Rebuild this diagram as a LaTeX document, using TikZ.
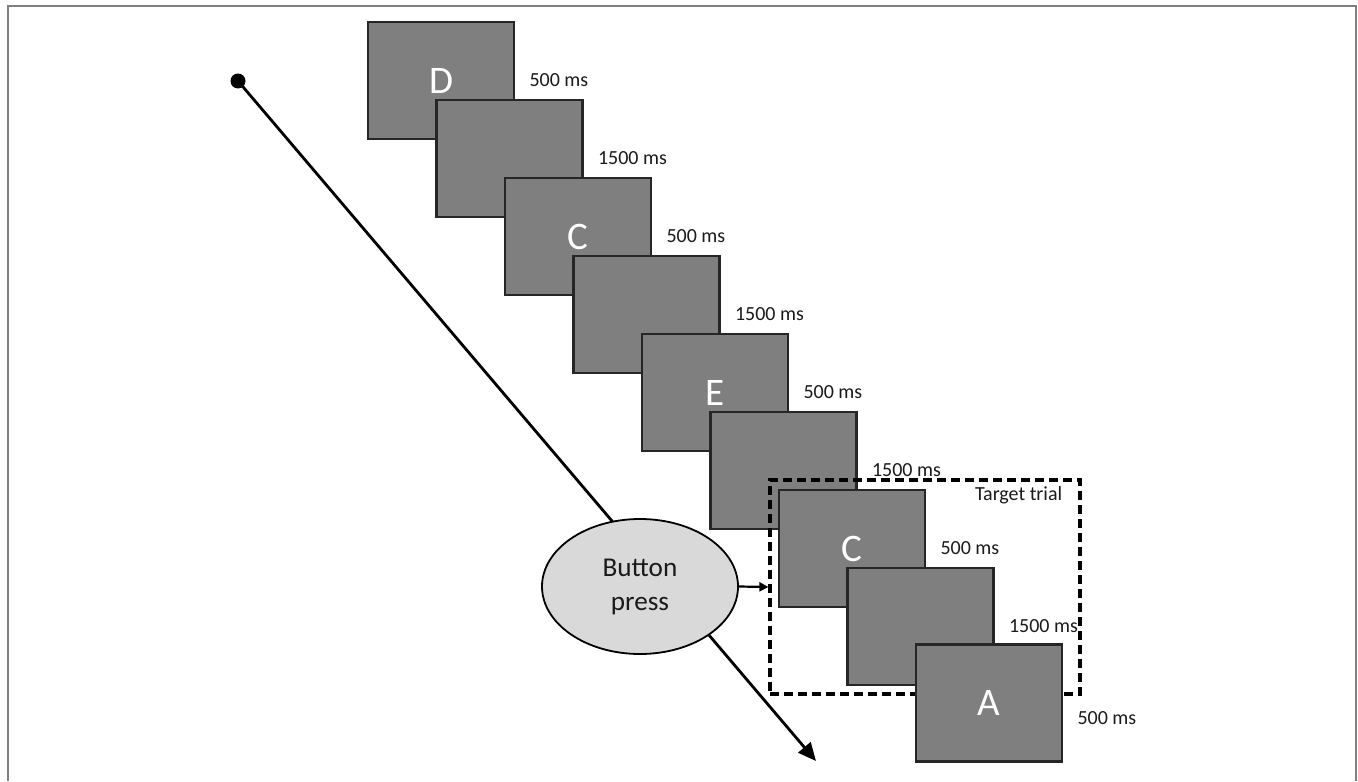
\documentclass[tikz,border=0pt]{standalone}
\usepackage{fontspec}
\setmainfont{Carlito}
\usetikzlibrary{arrows.meta,shapes.geometric}
\definecolor{boxgray}{HTML}{7F7F7F}
\definecolor{boxedge}{HTML}{262626}
\definecolor{ellfill}{HTML}{D9D9D9}
\definecolor{framegray}{HTML}{808080}
\definecolor{txt}{HTML}{1A1A1A}
\tikzset{
  screen/.style={draw=boxedge, line width=1.1pt, fill=boxgray, minimum width=73pt, minimum height=58.5pt, inner sep=0pt, text=white, font=\fontsize{19.5}{22}\selectfont},
  dur/.style={anchor=west, inner sep=0pt, text=txt, font=\fontsize{10}{12}\selectfont},
  press/.style={ellipse, draw=black, line width=0.9pt, fill=ellfill, minimum width=98pt, minimum height=67.5pt, inner sep=0pt, align=center, text=txt, font=\fontsize{13.6}{17}\selectfont},
  trialbox/.style={draw=black, line width=1.6pt, dash pattern=on 4.5pt off 2.5pt, minimum width=155pt, minimum height=107pt, inner sep=0pt},
  timeline/.style={line width=1.4pt, -{Triangle[length=9pt,width=8pt]}},
  pressarrow/.style={line width=1.1pt, -{Triangle[length=4.5pt,width=4.5pt]}},
}
\begin{document}
\begin{tikzpicture}[x=0.5pt,y=-0.5pt]
\useasboundingbox (0,0) rectangle (1358,781);
\fill[white] (0,0) rectangle (1358,781);
% outer frame
\draw[framegray, line width=1pt] (8,781) -- (8,6) -- (1356,6) -- (1356,781);

% timeline
\node[circle, fill=black, minimum size=7.5pt, inner sep=0pt] (dot) at (238,81) {};
\coordinate (tend) at (816,761);
\draw[timeline] (dot.center) -- (tend);

% screens
\node[screen] (b1) at (441,80.5) {D};
\node[screen] (b2) at (509.5,158.5) {};
\node[screen] (b3) at (578,236.5) {C};
\node[screen] (b4) at (646.5,314.5) {};
\node[screen] (b5) at (715,392.5) {E};
\node[screen] (b6) at (783.5,470.5) {};
\node[trialbox] (target) at (925,587) {};
\node[screen] (b7) at (852,548.5) {C};
\node[screen] (b8) at (920.5,626.5) {};
\node[screen] (b9) at (989,703) {A};

% durations
\node[dur] (t1) at ([xshift=7pt]b1.east) {500 ms};
\node[dur] (t2) at ([xshift=7pt]b2.east) {1500 ms};
\node[dur] (t3) at ([xshift=7pt]b3.east) {500 ms};
\node[dur] (t4) at ([xshift=7pt]b4.east) {1500 ms};
\node[dur] (t5) at ([xshift=7pt]b5.east) {500 ms};
\node[dur] (t6) at ([xshift=7pt]b6.east) {1500 ms};
\node[dur] (t7) at ([xshift=7pt]b7.east) {500 ms};
\node[dur] (t8) at ([xshift=7pt]b8.east) {1500 ms};
\node[dur] (t9) at ([xshift=7pt,yshift=-7.5pt]b9.east) {500 ms};

\node[dur, anchor=east] (tlabel) at ([xshift=-9.5pt,yshift=-8.5pt]target.north east) {Target trial};

% button press
\node[press] (ell) at (640,586.5) {Button\\press};
\draw[pressarrow] (ell.east) -- (target.west);
\end{tikzpicture}
\end{document}
